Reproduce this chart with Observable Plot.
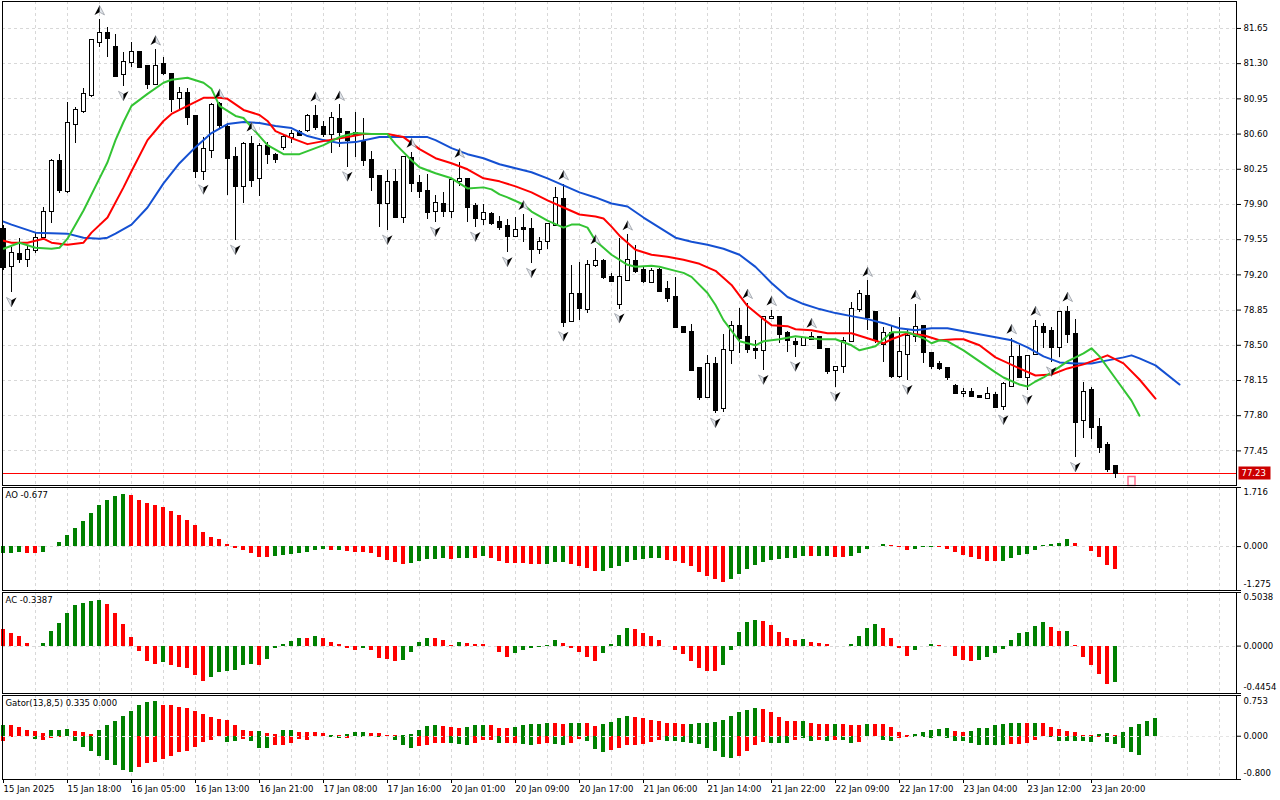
<!DOCTYPE html>
<html><head><meta charset="utf-8">
<script src="https://cdn.jsdelivr.net/npm/d3@7"></script>
<script src="https://cdn.jsdelivr.net/npm/@observablehq/plot@0.6"></script>
<style>
html,body{margin:0;padding:0;background:#fff;}
#chart{position:relative;width:1280px;height:800px;overflow:hidden;background:#fff;}
#chart svg{position:absolute;left:0;}
</style></head><body><div id="chart"></div>
<script>
// ---------- DATA ----------
const opens = [79.65,79.28,79.40,79.35,79.44,79.57,79.83,80.33,80.03,80.70,80.82,80.98,81.51,81.60,81.46,81.19,81.31,81.41,81.27,81.09,
81.29,81.19,80.95,81.00,80.77,80.23,80.44,80.89,80.67,80.37,80.08,80.50,80.16,80.48,80.39,80.47,80.57,80.62,80.64,80.77,
80.67,80.60,80.74,80.62,80.61,80.52,80.34,80.18,79.91,80.12,79.77,80.36,80.11,80.03,79.83,79.90,79.83,80.13,80.15,79.88,
79.75,79.80,79.72,79.68,79.58,79.66,79.65,79.45,79.53,79.69,79.95,78.74,79.00,78.86,79.29,79.33,79.17,78.91,79.14,79.33,
79.24,79.12,79.24,79.05,78.98,78.68,78.63,78.27,77.98,78.31,77.87,78.45,78.69,78.58,78.46,78.45,78.77,78.78,78.62,78.53,
78.50,78.56,78.58,78.46,78.25,78.29,78.54,78.86,78.99,78.83,78.51,78.62,78.19,78.41,78.59,78.69,78.42,78.31,78.27,78.09,
78.02,78.03,77.99,77.97,78.00,77.89,78.09,78.38,78.18,78.41,78.68,78.64,78.48,78.83,78.61,77.75,78.05,77.68,77.50,77.29];
const highs = [79.69,79.47,79.56,79.49,79.61,79.87,80.35,80.40,80.91,80.86,81.05,81.54,81.74,81.66,81.59,81.41,81.51,81.42,81.27,81.44,
81.36,81.20,81.06,81.05,80.77,80.57,80.90,80.91,80.71,80.47,80.52,80.58,80.51,80.52,80.41,80.59,80.64,80.64,80.79,80.88,
80.72,80.81,80.89,80.62,80.81,80.75,80.43,80.19,80.24,80.25,80.38,80.42,80.19,80.20,79.99,80.02,80.15,80.32,80.16,79.91,
79.90,79.82,79.78,79.75,79.77,79.80,79.76,79.57,79.71,80.07,80.10,79.29,79.32,79.34,79.46,79.35,79.21,79.56,79.60,79.49,
79.28,79.26,79.26,79.13,79.17,78.69,78.71,78.28,78.40,78.38,78.61,78.74,78.87,78.92,78.55,78.78,78.85,78.79,78.64,78.57,
78.58,78.63,78.59,78.47,78.29,78.58,78.93,79.04,79.14,78.83,78.68,78.70,78.78,78.65,78.91,78.70,78.42,78.34,78.28,78.11,
78.07,78.07,78.00,78.08,78.03,78.13,78.57,78.50,78.40,78.75,78.72,78.68,78.84,78.89,78.76,78.13,78.08,77.77,77.53,77.29];
const lows = [79.24,79.02,79.31,79.27,79.41,79.54,79.71,80.01,80.01,80.51,80.80,80.96,81.46,81.36,81.16,81.07,81.26,81.25,81.04,81.08,
81.18,80.81,80.83,80.69,80.16,80.14,80.36,80.66,79.99,79.54,79.91,80.07,79.98,80.30,80.31,80.44,80.51,80.58,80.62,80.64,
80.57,80.41,80.47,80.27,80.37,80.28,80.03,79.67,79.64,79.76,79.71,80.02,79.96,79.75,79.72,79.77,79.76,80.08,79.72,79.67,
79.69,79.69,79.64,79.42,79.57,79.52,79.31,79.40,79.45,79.68,78.68,78.73,78.75,78.82,79.27,79.15,79.12,78.86,79.13,79.21,
79.11,79.11,79.02,78.93,78.68,78.62,78.25,77.95,77.97,77.82,77.83,78.31,78.42,78.42,78.36,78.25,78.76,78.52,78.43,78.38,
78.49,78.55,78.46,78.21,78.08,78.22,78.53,78.83,78.65,78.52,78.33,78.17,78.17,78.15,78.53,78.32,78.26,78.25,78.15,78.01,
77.98,77.99,77.97,77.97,77.87,77.85,78.08,78.18,78.05,78.40,78.47,78.33,78.38,78.52,77.38,77.57,77.56,77.42,77.24,77.18];
const closes = [79.27,79.41,79.35,79.44,79.56,79.82,80.33,80.04,80.71,80.83,80.99,81.53,81.60,81.55,81.17,81.31,81.41,81.26,81.09,81.27,
81.20,80.94,81.00,80.76,80.23,80.45,80.88,80.69,80.36,80.08,80.50,80.14,80.48,80.40,80.35,80.57,80.60,80.59,80.77,80.67,
80.60,80.75,80.62,80.54,80.60,80.34,80.17,79.91,80.12,79.77,80.37,80.11,80.03,79.82,79.91,79.83,80.14,80.15,79.87,79.76,
79.81,79.71,79.67,79.58,79.64,79.65,79.45,79.52,79.70,79.96,78.73,79.00,78.87,79.29,79.33,79.17,79.13,79.17,79.34,79.23,
79.13,79.23,79.03,78.97,78.68,78.63,78.25,77.98,78.31,77.85,78.45,78.69,78.57,78.46,78.45,78.78,78.78,78.61,78.55,78.51,
78.57,78.58,78.47,78.24,78.28,78.54,78.86,79.00,78.78,78.55,78.62,78.19,78.43,78.59,78.68,78.43,78.29,78.27,78.18,78.02,
78.03,77.99,77.98,78.01,77.88,78.11,78.38,78.18,78.39,78.68,78.63,78.48,78.83,78.61,77.73,78.03,77.68,77.48,77.27,77.23];

const fractalUp = [12,19,27,31,39,42,51,57,65,70,74,78,93,96,101,108,114,126,129,133];
const fractalDown = [1,15,25,29,43,48,54,59,63,66,70,77,89,95,99,104,113,125,128,131,134];

const jawBars = [0,1,4,8,10,12,13,14,16,18,20,22,24,26,28,30,32,34,36,38,40,42,44,47,50,53,54,56,58,60,62,64,66,68,70,72,74,76,78,80,82,84,86,88,90,92,94,96,98,100,102,104,106,108,110,112,114,116,118,120,122,124,126,128,130,132,134,136,138,140,141,142,144,147];
const jawPrices = [79.73,79.70,79.62,79.61,79.57,79.56,79.57,79.61,79.70,79.87,80.11,80.31,80.47,80.61,80.70,80.72,80.71,80.68,80.66,80.58,80.54,80.51,80.52,80.57,80.57,80.57,80.54,80.46,80.40,80.36,80.30,80.26,80.22,80.16,80.09,80.02,79.97,79.91,79.88,79.77,79.67,79.57,79.53,79.50,79.46,79.40,79.28,79.12,78.98,78.91,78.86,78.82,78.79,78.76,78.72,78.67,78.65,78.67,78.67,78.64,78.61,78.58,78.55,78.48,78.39,78.33,78.32,78.32,78.35,78.38,78.40,78.37,78.30,78.11];
const teethBars = [0,1,3,5,6,8,10,11,13,15,16,18,20,21,23,25,27,28,30,32,33,34,36,38,40,43,45,48,50,52,54,56,58,60,62,64,66,68,70,72,74,75,76,77,79,81,83,85,87,89,91,93,95,96,98,99,101,103,106,108,110,111,113,115,117,119,120,122,124,127,129,131,133,135,137,138,140,142,144];
const teethPrices = [79.54,79.52,79.52,79.56,79.52,79.50,79.52,79.62,79.77,80.07,80.23,80.54,80.73,80.80,80.88,80.96,80.96,80.95,80.84,80.79,80.73,80.63,80.56,80.50,80.53,80.57,80.60,80.60,80.57,80.45,80.36,80.31,80.25,80.16,80.13,80.08,80.02,79.94,79.87,79.80,79.78,79.76,79.68,79.59,79.45,79.40,79.38,79.35,79.31,79.24,79.10,78.89,78.76,78.70,78.69,78.66,78.65,78.62,78.62,78.57,78.52,78.56,78.62,78.60,78.55,78.56,78.56,78.50,78.38,78.27,78.20,78.21,78.27,78.31,78.37,78.40,78.32,78.16,77.97];
const lipsBars = [0,1,2,4,6,7,8,10,12,13,14,15,16,18,20,21,23,25,26,27,29,30,32,33,35,37,39,40,42,44,46,48,49,51,52,54,56,58,60,61,62,63,65,66,68,70,71,72,73,74,76,78,79,81,82,84,85,86,88,89,90,92,94,95,97,99,100,102,104,106,107,109,111,113,115,116,117,118,120,122,124,125,127,128,129,130,131,133,135,136,137,139,141,142];
const lipsPrices = [79.46,79.49,79.52,79.47,79.46,79.47,79.56,79.84,80.16,80.32,80.54,80.72,80.88,81.00,81.11,81.14,81.16,81.11,81.05,80.88,80.78,80.76,80.58,80.49,80.40,80.40,80.46,80.49,80.57,80.61,80.60,80.60,80.50,80.34,80.27,80.21,80.16,80.06,80.07,80.05,80.00,79.97,79.90,79.83,79.74,79.67,79.70,79.70,79.67,79.54,79.40,79.30,79.28,79.29,79.28,79.24,79.22,79.18,79.02,78.90,78.75,78.54,78.50,78.54,78.56,78.59,78.58,78.56,78.56,78.50,78.45,78.49,78.63,78.63,78.57,78.52,78.55,78.54,78.45,78.34,78.23,78.18,78.11,78.09,78.14,78.18,78.23,78.34,78.42,78.47,78.39,78.17,77.95,77.80];

const lastPrice = 77.23;
const markerBar = [141];
const priceTicks = [81.65,81.30,80.95,80.60,80.25,79.90,79.55,79.20,78.85,78.50,78.15,77.80,77.45];
const priceRange = [77.106, 81.918];

const aoPrev = -0.22;
const ao = [-0.20,-0.19,-0.17,-0.20,-0.20,-0.17,0.01,0.13,0.33,0.52,
0.74,0.96,1.20,1.34,1.46,1.50,1.47,1.35,1.25,1.19,
1.14,1.02,0.90,0.77,0.60,0.40,0.26,0.21,0.06,-0.05,
-0.10,-0.20,-0.32,-0.33,-0.29,-0.26,-0.22,-0.20,-0.17,-0.10,
-0.09,-0.11,-0.10,-0.15,-0.17,-0.18,-0.20,-0.32,-0.39,-0.46,
-0.51,-0.49,-0.44,-0.38,-0.37,-0.36,-0.37,-0.35,-0.34,-0.35,
-0.30,-0.34,-0.44,-0.49,-0.50,-0.50,-0.51,-0.52,-0.51,-0.47,
-0.46,-0.51,-0.58,-0.64,-0.73,-0.72,-0.63,-0.58,-0.47,-0.40,
-0.37,-0.35,-0.34,-0.39,-0.44,-0.50,-0.58,-0.76,-0.88,-0.96,
-1.03,-0.96,-0.81,-0.66,-0.54,-0.47,-0.40,-0.37,-0.36,-0.35,
-0.29,-0.30,-0.29,-0.28,-0.32,-0.33,-0.29,-0.19,-0.07,-0.01,
0.06,0.03,-0.02,-0.10,-0.07,-0.04,-0.03,-0.04,-0.07,-0.17,
-0.25,-0.32,-0.37,-0.43,-0.44,-0.43,-0.34,-0.25,-0.22,-0.10,
0.03,0.06,0.10,0.20,0.10,0.00,-0.14,-0.32,-0.54,-0.677];
const aoScale = [-1.275, 1.716];

const acPrev = 0.19;
const ac = [0.159,0.117,0.092,0.022,-0.003,0.025,0.14,0.216,0.311,0.378,
0.397,0.416,0.425,0.387,0.311,0.206,0.083,-0.051,-0.146,-0.171,
-0.152,-0.184,-0.2,-0.206,-0.276,-0.337,-0.295,-0.251,-0.241,-0.229,
-0.178,-0.171,-0.184,-0.127,-0.025,0.016,0.044,0.07,0.067,0.086,
0.067,0.032,0.019,-0.025,-0.038,-0.025,-0.044,-0.114,-0.124,-0.149,
-0.133,-0.057,0.032,0.076,0.067,0.048,0.01,0.038,0.029,0.019,
0.018,-0.003,-0.063,-0.105,-0.073,-0.041,-0.025,-0.016,0.01,0.057,
0.029,-0.025,-0.063,-0.105,-0.143,-0.073,0.019,0.095,0.162,0.16,
0.114,0.086,0.048,-0.003,-0.044,-0.083,-0.143,-0.21,-0.238,-0.24,
-0.181,-0.044,0.124,0.219,0.244,0.229,0.19,0.124,0.067,0.057,
0.058,0.038,0.029,0.019,-0.006,-0.008,0.019,0.086,0.162,0.2,
0.162,0.067,-0.025,-0.095,-0.044,-0.006,0.019,0.01,0.0,-0.095,
-0.133,-0.143,-0.133,-0.105,-0.067,-0.029,0.048,0.114,0.124,0.181,
0.219,0.171,0.133,0.134,0.01,-0.105,-0.178,-0.267,-0.359,-0.3387];
const acScale = [-0.4454, 0.5038];

const gatorUp = [0.20,0.20,0.16,0.11,0.08,0.05,0.11,0.11,0.13,0.09,
0.06,0.04,0.11,0.20,0.28,0.36,0.45,0.56,0.62,0.64,
0.57,0.56,0.53,0.51,0.45,0.41,0.35,0.31,0.30,0.20,
0.11,0.08,0.09,0.05,0.04,0.10,0.10,0.07,0.06,0.07,
0.05,0.02,0.01,0.04,0.06,0.06,0.05,0.05,0.02,0.01,
0.01,0.03,0.11,0.18,0.20,0.18,0.17,0.15,0.17,0.19,
0.20,0.20,0.15,0.15,0.17,0.20,0.22,0.22,0.24,0.24,
0.22,0.24,0.24,0.24,0.18,0.21,0.26,0.33,0.36,0.34,
0.32,0.30,0.28,0.24,0.23,0.22,0.21,0.23,0.23,0.26,
0.30,0.36,0.43,0.48,0.51,0.49,0.43,0.35,0.28,0.28,
0.28,0.23,0.21,0.21,0.22,0.22,0.19,0.19,0.22,0.22,
0.22,0.17,0.07,0.02,0.03,0.06,0.10,0.12,0.14,0.09,
0.07,0.09,0.14,0.15,0.19,0.21,0.23,0.23,0.23,0.23,
0.23,0.17,0.13,0.09,0.06,0.02,0.01,0.03,0.05,0.01,
0.07,0.16,0.22,0.28,0.335];
const gatorUpRise = ("grrrrrgggr"+"rrgggggggg"+"rrrrrrrrrr"+"rrgrrggrrr"+"rgrgggrrrr"+"gggggrrrgg"+"grrrgggggr"+"rggrrggggr"+
  "rrrrrrgggg"+"gggggrrrrr"+"grrrgrrrgr"+"rrrrgggggr"+"rgggggggrg"+"rrrrrrrggr"+"ggggg").split("");
const gatorLo = [-0.10,-0.02,-0.01,-0.01,-0.06,-0.07,-0.05,-0.03,-0.01,-0.10,
-0.20,-0.29,-0.37,-0.44,-0.54,-0.64,-0.67,-0.58,-0.51,-0.48,
-0.43,-0.37,-0.31,-0.29,-0.20,-0.12,-0.07,-0.01,-0.12,-0.09,
-0.06,-0.10,-0.23,-0.23,-0.18,-0.17,-0.14,-0.06,-0.07,-0.01,
-0.01,-0.03,-0.05,-0.05,-0.01,-0.03,-0.01,-0.02,-0.01,-0.07,
-0.17,-0.22,-0.19,-0.17,-0.13,-0.13,-0.14,-0.16,-0.18,-0.14,
-0.07,-0.07,-0.14,-0.14,-0.14,-0.16,-0.18,-0.16,-0.14,-0.16,
-0.17,-0.14,-0.06,-0.10,-0.25,-0.30,-0.27,-0.23,-0.18,-0.18,
-0.16,-0.11,-0.07,-0.09,-0.09,-0.11,-0.13,-0.16,-0.22,-0.28,
-0.39,-0.42,-0.37,-0.28,-0.17,-0.11,-0.13,-0.13,-0.14,-0.07,
-0.05,-0.09,-0.07,-0.09,-0.07,-0.08,-0.14,-0.11,-0.01,-0.01,
-0.07,-0.09,-0.05,-0.02,-0.03,-0.03,-0.05,-0.01,-0.05,-0.09,
-0.09,-0.14,-0.18,-0.18,-0.18,-0.18,-0.16,-0.16,-0.14,-0.07,
-0.01,-0.03,-0.09,-0.09,-0.09,-0.09,-0.12,-0.02,-0.11,-0.15,
-0.22,-0.30,-0.35,-0.01,0];
const gatorLoRise = ("rrrggrrrrg"+"gggggggrrr"+"rrrrrrrrgg"+"rgggrrrrrr"+"rggrrgrgrg"+"ggrrrrgggr"+"rrgrrggrrg"+"grrgggrrrr"+
  "rrrggggggg"+"ggrrrrgggr"+"ggrgrggrrr"+"ggrrgggrgg"+"ggggggrrrr"+"rggggggrgg"+"gggrr").split("");
const gatorScale = [-0.8, 0.753];

const timeLabels = ["15 Jan 2025","15 Jan 18:00","16 Jan 05:00","16 Jan 13:00","16 Jan 21:00","17 Jan 08:00","17 Jan 16:00","20 Jan 01:00","20 Jan 09:00","20 Jan 17:00","21 Jan 06:00","21 Jan 14:00","21 Jan 22:00","22 Jan 09:00","22 Jan 17:00","23 Jan 04:00","23 Jan 12:00","23 Jan 20:00"];
const barsPerLabel = 8;
const barsPerGrid = 4;

// ---------- HELPERS ----------
const loc = d3.formatLocale({decimal:".", thousands:",", grouping:[3], currency:["",""], minus:"-"});
const f2 = loc.format(".2f"), f3 = loc.format(".3f"), f4 = loc.format(".4f");
const GREEN = "#008000", RED = "#ff0000", GRID = "#d8d8d8";
const candles = opens.map((o, i) => ({i, open:o, high:highs[i], low:lows[i], close:closes[i]}));
const pts = (bars, vals) => bars.map((b, k) => ({i:b, v:vals[k]}));
const histo = (vals, prev) => vals.map((v, i) => ({i, v, up: v > (i ? vals[i-1] : prev)}));
const gridBars = d3.range(barsPerGrid, 155, barsPerGrid);
const labelBars = timeLabels.map((_, k) => k * barsPerLabel);

const sz = size => Math.sqrt(size / Math.PI);
const upDark = {draw(c, size){ const s = sz(size); c.moveTo(0,-s); c.lineTo(-s,s*0.9); c.lineTo(0,s*0.35); c.closePath(); }};
const upLight = {draw(c, size){ const s = sz(size); c.moveTo(0,-s); c.lineTo(0,s*0.35); c.lineTo(s,s*0.9); c.closePath(); }};
const dnDark = {draw(c, size){ const s = sz(size); c.moveTo(0,s); c.lineTo(0,-s*0.35); c.lineTo(s,-s*0.9); c.closePath(); }};
const dnLight = {draw(c, size){ const s = sz(size); c.moveTo(0,s); c.lineTo(-s,-s*0.9); c.lineTo(0,-s*0.35); c.closePath(); }};
const boxSym = {draw(c){ c.rect(-16,-6.5,32,13); }};
const markSym = {draw(c){ c.rect(-3.5,-4.5,7,9); }};

const X = {type:"linear", domain:[-0.125, 154.125], axis:null};
const STYLE = {fontFamily:"DejaVu Sans, sans-serif", fontSize:"8.5px", color:"#000", background:"transparent", overflow:"visible"};
const root = document.getElementById("chart");
function pane(top, height, mt, mb, yDomain, marks) {
  const svg = Plot.plot({width:1280, height, marginLeft:2, marginRight:44, marginTop:mt, marginBottom:mb,
    x:X, y:{type:"linear", domain:yDomain, axis:null}, style:STYLE, marks});
  svg.style.top = top + "px";
  root.appendChild(svg);
}
const vgrid = () => Plot.ruleX(gridBars, {x:d=>d, stroke:GRID, strokeDasharray:"3,3", shapeRendering:"crispEdges"});
function sideLabels(vals, fmt, dyTop, dyBot) {
  const [top, zero, bot] = vals;
  const opt = dy => ({y:d=>d, text:d=>fmt(d), frameAnchor:"right", dx:7, dy, textAnchor:"start", fill:"#000"});
  return [
    Plot.axisY(vals, {anchor:"right", tickSize:4, tickFormat:()=>"", label:null}),
    Plot.text([top], opt(dyTop)),
    Plot.text([zero], opt(0)),
    Plot.text([bot], opt(dyBot))
  ];
}
const title = t => Plot.text([t], {frameAnchor:"top-left", dx:3, dy:4, textAnchor:"start", lineAnchor:"top", fill:"#000"});
const bars = (data, colorFn) => Plot.rect(data, {x1:d=>d.i-0.25, x2:d=>d.i+0.25, y1:()=>0, y2:"v", fill:colorFn, shapeRendering:"crispEdges"});

// ---------- MAIN PANE ----------
pane(0, 486, 1, 1, priceRange, [
  vgrid(),
  Plot.ruleY(priceTicks, {stroke:GRID, strokeDasharray:"3,3", shapeRendering:"crispEdges"}),
  Plot.ruleY([lastPrice], {stroke:"#ff0000", shapeRendering:"crispEdges"}),
  Plot.ruleX(candles, {x:"i", y1:"low", y2:"high", stroke:"#000", shapeRendering:"crispEdges"}),
  Plot.rect(candles, {x1:d=>d.i-0.25, x2:d=>d.i+0.25, y1:"open", y2:"close", insetTop:-0.5, insetBottom:-0.5,
    fill:d=>d.close > d.open ? "#fff" : "#000", stroke:"#000", shapeRendering:"crispEdges"}),
  Plot.line(pts(jawBars, jawPrices), {x:"i", y:"v", stroke:"#1450d2", strokeWidth:2}),
  Plot.line(pts(teethBars, teethPrices), {x:"i", y:"v", stroke:"#ff0000", strokeWidth:2}),
  Plot.line(pts(lipsBars, lipsPrices), {x:"i", y:"v", stroke:"#33c433", strokeWidth:2}),
  Plot.dot(fractalUp, {x:d=>d, y:d=>highs[d], dy:-9, r:5, symbol:upLight, fill:"#e2e6ec", stroke:"#7d838c", strokeWidth:0.6}),
  Plot.dot(fractalUp, {x:d=>d, y:d=>highs[d], dy:-9, r:5, symbol:upDark, fill:"#000", stroke:"none"}),
  Plot.dot(fractalDown, {x:d=>d, y:d=>lows[d], dy:9, r:5, symbol:dnLight, fill:"#e2e6ec", stroke:"#7d838c", strokeWidth:0.6}),
  Plot.dot(fractalDown, {x:d=>d, y:d=>lows[d], dy:9, r:5, symbol:dnDark, fill:"#000", stroke:"none"}),
  Plot.dot(markerBar, {x:d=>d, frameAnchor:"bottom", dy:-4.5, symbol:markSym, r:1, fill:"none", stroke:"#ff6f8f"}),
  Plot.frame({stroke:"#000"}),
  Plot.axisY(priceTicks, {anchor:"right", tickSize:4, tickPadding:3, tickFormat:f2, fill:"#000", label:null}),
  Plot.dot([lastPrice], {y:d=>d, frameAnchor:"right", dx:18, symbol:boxSym, r:1, fill:"#cc0000", stroke:"none"}),
  Plot.text([lastPrice], {y:d=>d, text:d=>f2(d), frameAnchor:"right", dx:5, textAnchor:"start", fill:"#fff"})
]);

// ---------- AO ----------
const aoData = histo(ao, aoPrev);
pane(486, 105, 1, 1, aoScale, [
  vgrid(),
  Plot.ruleY([0], {stroke:GRID, strokeDasharray:"3,3", shapeRendering:"crispEdges"}),
  bars(aoData, d=>d.up ? GREEN : RED),
  Plot.frame({stroke:"#000"}),
  ...sideLabels([aoScale[1], 0, aoScale[0]], f3, 5, -6),
  title(`AO ${f3(ao[ao.length-1])}`)
]);

// ---------- AC ----------
const acData = histo(ac, acPrev);
pane(591, 103, 1, 1, acScale, [
  vgrid(),
  Plot.ruleY([0], {stroke:GRID, strokeDasharray:"3,3", shapeRendering:"crispEdges"}),
  bars(acData, d=>d.up ? GREEN : RED),
  Plot.frame({stroke:"#000"}),
  ...sideLabels([acScale[1], 0, acScale[0]], f4, 5, -6),
  title(`AC ${f4(ac[ac.length-1])}`)
]);

// ---------- GATOR ----------
const gUp = gatorUp.map((v, i) => ({i, v, c: gatorUpRise[i]}));
const gLo = gatorLo.map((v, i) => ({i, v, c: gatorLoRise[i]}));
pane(693, 107, 2, 21, gatorScale, [
  vgrid(),
  bars(gUp, d=>d.c === "g" ? GREEN : RED),
  bars(gLo.filter(d => d.v !== 0), d=>d.c === "g" ? GREEN : RED),
  Plot.ruleY([0], {stroke:"#e4e4e4", strokeDasharray:"3,3", shapeRendering:"crispEdges"}),
  Plot.frame({stroke:"#000"}),
  ...sideLabels([gatorScale[1], 0, gatorScale[0]], f3, 6, -6),
  title(`Gator(13,8,5) ${f3(gatorUp[gatorUp.length-1])} ${f3(Math.abs(gatorLo[gatorLo.length-1]))}`),
  Plot.axisX(labelBars, {anchor:"bottom", tickSize:4, tickPadding:2, tickFormat:d=>timeLabels[d / barsPerLabel], textAnchor:"start", fill:"#000", label:null})
]);
</script></body></html>
